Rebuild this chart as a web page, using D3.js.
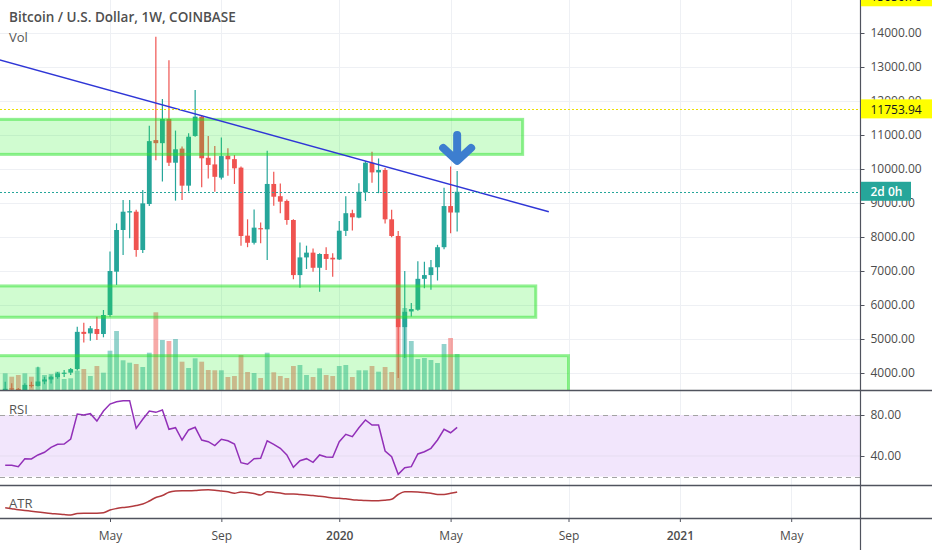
<!DOCTYPE html>
<html>
<head>
<meta charset="utf-8">
<script src="https://cdn.jsdelivr.net/npm/d3@7"></script>
<style>
body{margin:0;background:#fff;}
svg{display:block;font-family:"Open Sans",sans-serif;}
</style>
</head>
<body>
<script>
var firstWeek="2019-01-14"
var weekOpen=[3510,3550,3530,3410,3650,3620,3750,3810,3880,3990,4010,4115,5210,5165,5294,5147,5706,6980,8206,8720,
  8744,7618,8970,10850,10760,11470,10185,10600,9510,10970,11540,10330,10135,9745,10390,10290,10040,8040,7830,8260,
  8225,9560,9200,9060,8500,6880,7400,7540,7095,7500,7390,7340,8180,8700,8570,9315,10185,9900,9970,8520,
  8030,5350,5810,5860,6770,6880,7110,7700,8910,8720]
var weekHigh=[3740,3700,3560,3700,3740,4185,3890,3930,4030,4090,4150,5360,5480,5380,5655,5853,7570,8400,9090,9090,
  8800,9380,11270,13890,12060,13200,11130,10660,11050,12320,11590,10970,10680,10930,10610,10410,10070,8520,8810,8430,
  10540,9920,9575,9100,8520,7840,7745,7665,7520,7700,7520,8470,9200,8800,9580,10235,10510,10310,10030,8800,
  8180,7000,6060,7290,7270,7320,7770,9450,10070,9940]
var weekLow=[3480,3500,3350,3390,3570,3600,3670,3690,3830,3880,3940,4070,4900,4950,4970,5050,5656,6590,7470,7960,
  7420,7530,8910,10260,9630,10090,9070,9090,9340,10950,9460,9720,9330,9690,9800,9560,7745,7700,7780,7815,
  7320,8920,8695,8360,6760,6510,7060,6980,6390,7030,6830,7320,8030,8190,8550,9060,9595,9290,8400,7990,
  3850,4440,5660,5830,6490,6450,6720,7640,8110,8160]
var weekClose=[3535,3530,3410,3650,3620,3750,3810,3890,3990,4010,4115,5210,5150,5315,5147,5706,7000,8206,8744,8760,
  7618,8990,10820,10760,11470,10185,10580,9510,10950,11540,10315,10120,9770,10380,10285,10020,8030,7830,8275,8230,
  9560,9185,9040,8500,6880,7400,7540,7095,7500,7355,7340,8185,8700,8580,9330,10185,9900,9970,8520,8030,
  5350,5800,5880,6770,6880,7110,7700,8910,8720,9330]
var weekVolume=[33400,26600,30000,33400,26600,45400,30000,32000,36600,22000,23400,38600,42000,28000,48000,34600,78600,118000,59400,54600,
  52000,46000,74600,155400,100000,98000,102000,56600,44000,63400,56600,40000,39400,39400,26000,28000,70000,36000,34000,24000,
  74600,35400,28000,24000,48000,50000,30000,26000,43400,30000,28000,48000,50000,26000,39400,39400,48000,36600,46000,36000,
  126000,164000,98000,62000,64000,60000,54000,92000,104000,72000]
var rsiValues=[30.9,30.9,29.6,37.4,37.1,41,43.6,48.5,51.4,51.7,56.6,81,80,81.3,74.1,83.9,90.7,93,94,94,
  67,75.8,83.9,82.6,84.9,66,67.6,55.6,65.4,68,55.6,54,50.1,56.3,54.9,51.7,33.5,31.9,37.4,37.7,
  54.9,51.4,47.5,41,29,35.4,37.4,33.8,41,39,38.7,54,61.2,58.9,67.6,75.1,70.2,70.2,44.9,39.3,
  22.1,28.6,29.6,42,44.2,47.5,55.6,66,62.7,68]
var atrValues=[618,558,498,450,408,360,312,270,240,204,180,270,282,282,288,318,480,570,630,678,
  750,840,1020,1230,1350,1542,1620,1638,1638,1650,1680,1692,1668,1620,1572,1488,1560,1530,1470,1380,
  1578,1542,1500,1440,1440,1410,1380,1350,1302,1260,1200,1182,1158,1092,1068,1044,1038,1038,1068,1122,
  1410,1572,1578,1560,1524,1482,1410,1410,1482,1560]

var priceTicks=[4000,5000,6000,7000,8000,9000,10000,11000,12000,13000,14000]
var rsiTicks=[80,40]
var xTickDates=["2019-05-06","2019-09-02","2020-01-06","2020-05-04","2020-09-07","2021-01-04","2021-05-03"]
var xTickLabels=["May","Sep","2020","May","Sep","2021","May"]

var zones=[{from:"2018-12-01",to:"2020-07-20",low:10430,high:11460},
           {from:"2018-12-01",to:"2020-08-03",low:5640,high:6560},
           {from:"2018-12-01",to:"2020-09-07",low:3000,high:4510}]
var trendLine=[{date:"2019-01-07",price:13217},{date:"2020-08-17",price:8742}]
var hLevel=11753.94
var topLevel=15050.76
var arrowAt={date:"2020-05-11",price:10120}
var countdown="2d 0h"

var parse=d3.utcParse("%Y-%m-%d")
var start=parse(firstWeek)
var weeks=d3.utcMonday.range(start,d3.utcDay.offset(start,7*weekOpen.length))
var bars=weeks.map(function(w,i){
  return {date:w,o:weekOpen[i],h:weekHigh[i],l:weekLow[i],c:weekClose[i],v:weekVolume[i],
          rsi:rsiValues[i],atr:atrValues[i],up:weekClose[i]>=weekOpen[i]}})

var screen={width:932,height:550}
var axisX=860.5
var pricePane={top:0,bottom:390}
var rsiPane={top:390,bottom:485}
var atrPane={top:485,bottom:518}

var xScale=d3.scaleUtc()
  .domain([parse("2019-01-14"),parse("2021-05-03")])
  .range([5.2,791.2])
var yPrice=d3.scaleLinear().domain([4000,14000]).range([373,33])
var yVol=d3.scaleLinear().domain([0,200000]).range([390,290])
var yRsi=d3.scaleLinear().domain([40,80]).range([456,415])
var yAtr=d3.scaleLinear().domain([0,1800]).range([518,488])

var teal="#26a69a", red="#ef5350", gridColor="#eef0f4", lineColor="#50535e", textColor="#4c4c4c"

var svg=d3.select("body").append("svg")
  .attr("width",screen.width)
  .attr("height",screen.height)

var defs=svg.append("defs")
var addClip=function(id,pane){
  defs.append("clipPath").attr("id",id).append("rect")
    .attr("x",0).attr("y",pane.top).attr("width",axisX).attr("height",pane.bottom-pane.top)}
addClip("clipPrice",pricePane)
addClip("clipRsi",rsiPane)
addClip("clipAtr",atrPane)

// grid
var grid=svg.append("g")
grid.selectAll("line.h").data(priceTicks).enter().append("line")
  .attr("x1",0).attr("x2",axisX)
  .attr("y1",function(d){return Math.round(yPrice(d))+0.5})
  .attr("y2",function(d){return Math.round(yPrice(d))+0.5})
  .attr("stroke",gridColor)
grid.selectAll("line.v").data(xTickDates).enter().append("line")
  .attr("x1",function(d){return Math.round(xScale(parse(d)))+0.5})
  .attr("x2",function(d){return Math.round(xScale(parse(d)))+0.5})
  .attr("y1",0).attr("y2",atrPane.bottom)
  .attr("stroke",gridColor)

// price pane
var pricePlot=svg.append("g").attr("clip-path","url(#clipPrice)")
var bw=4.8
pricePlot.selectAll("rect.vol").data(bars).enter().append("rect")
  .attr("x",function(d){return xScale(d.date)-bw/2})
  .attr("y",function(d){return yVol(d.v)})
  .attr("width",bw)
  .attr("height",function(d){return yVol(0)-yVol(d.v)})
  .attr("fill",function(d){return d.up?"rgba(38,166,154,0.5)":"rgba(239,83,80,0.5)"})
pricePlot.selectAll("line.wick").data(bars).enter().append("line")
  .attr("x1",function(d){return xScale(d.date)})
  .attr("x2",function(d){return xScale(d.date)})
  .attr("y1",function(d){return yPrice(d.h)})
  .attr("y2",function(d){return yPrice(d.l)})
  .attr("stroke",function(d){return d.up?teal:red})
  .attr("stroke-width",1.2)
pricePlot.selectAll("rect.body").data(bars).enter().append("rect")
  .attr("x",function(d){return xScale(d.date)-bw/2})
  .attr("y",function(d){return yPrice(Math.max(d.o,d.c))})
  .attr("width",bw)
  .attr("height",function(d){return Math.max(1.2,Math.abs(yPrice(d.o)-yPrice(d.c)))})
  .attr("fill",function(d){return d.up?teal:red})

pricePlot.selectAll("rect.zone").data(zones).enter().append("rect")
  .attr("x",function(d){return xScale(parse(d.from))})
  .attr("y",function(d){return yPrice(d.high)})
  .attr("width",function(d){return xScale(parse(d.to))-xScale(parse(d.from))})
  .attr("height",function(d){return yPrice(d.low)-yPrice(d.high)})
  .attr("fill","rgba(40,240,40,0.22)")
  .attr("stroke","rgba(40,225,40,0.5)")
  .attr("stroke-width",3)

pricePlot.append("line")
  .attr("x1",xScale(parse(trendLine[0].date))).attr("y1",yPrice(trendLine[0].price))
  .attr("x2",xScale(parse(trendLine[1].date))).attr("y2",yPrice(trendLine[1].price))
  .attr("stroke","#2f36d6").attr("stroke-width",1.5)

var lastBar=bars[bars.length-1]
pricePlot.append("line")
  .attr("x1",0).attr("x2",axisX)
  .attr("y1",Math.round(yPrice(hLevel))+0.5).attr("y2",Math.round(yPrice(hLevel))+0.5)
  .attr("stroke","#ece000").attr("stroke-dasharray","2,2")
pricePlot.append("line")
  .attr("x1",0).attr("x2",axisX)
  .attr("y1",Math.round(yPrice(lastBar.c))+0.5).attr("y2",Math.round(yPrice(lastBar.c))+0.5)
  .attr("stroke",teal).attr("stroke-dasharray","2,2")

var ax=xScale(parse(arrowAt.date)), ay=yPrice(arrowAt.price)
pricePlot.append("path")
  .attr("d","M"+ax+","+(ay-30)+"V"+(ay-5)+"M"+(ax-14)+","+(ay-17)+"L"+ax+","+(ay-4)+"L"+(ax+14)+","+(ay-17))
  .attr("fill","none").attr("stroke","#3d7ecf").attr("stroke-width",8)
  .attr("stroke-linecap","round").attr("stroke-linejoin","round")

// rsi pane
var rsiPlot=svg.append("g").attr("clip-path","url(#clipRsi)")
rsiPlot.append("rect")
  .attr("x",0).attr("width",axisX)
  .attr("y",yRsi(80)).attr("height",yRsi(20)-yRsi(80))
  .attr("fill","#f2e6fc")
rsiPlot.append("line").attr("x1",0).attr("x2",axisX)
  .attr("y1",yRsi(40)).attr("y2",yRsi(40)).attr("stroke","#e6ddf0")
rsiPlot.selectAll("line.band").data([80,20]).enter().append("line")
  .attr("x1",0).attr("x2",axisX)
  .attr("y1",function(d){return Math.round(yRsi(d))+0.5})
  .attr("y2",function(d){return Math.round(yRsi(d))+0.5})
  .attr("stroke","#a3a3a3").attr("stroke-dasharray","5,4")
rsiPlot.append("path").datum(bars)
  .attr("d",d3.line().x(function(d){return xScale(d.date)}).y(function(d){return yRsi(d.rsi)}))
  .attr("fill","none").attr("stroke","#9230b8").attr("stroke-width",1.5)

// atr pane
var atrPlot=svg.append("g").attr("clip-path","url(#clipAtr)")
atrPlot.append("path").datum(bars)
  .attr("d",d3.line().curve(d3.curveMonotoneX).x(function(d){return xScale(d.date)}).y(function(d){return yAtr(d.atr)}))
  .attr("fill","none").attr("stroke","#b23a3e").attr("stroke-width",1.5)

// axes
var priceAxis=svg.append("g")
  .attr("transform","translate("+axisX+",0)")
  .call(d3.axisRight(yPrice).tickValues(priceTicks).tickFormat(d3.format(".2f")).tickSize(4).tickPadding(6))
var rsiAxis=svg.append("g")
  .attr("transform","translate("+axisX+",0)")
  .call(d3.axisRight(yRsi).tickValues(rsiTicks).tickFormat(d3.format(".2f")).tickSize(4).tickPadding(6))
var timeAxis=svg.append("g")
  .attr("transform","translate(0,"+atrPane.bottom+")")
  .call(d3.axisBottom(xScale).tickValues(xTickDates.map(parse))
    .tickFormat(function(d,i){return xTickLabels[i]}).tickSize(4).tickPadding(9))
svg.selectAll(".domain").remove()
svg.selectAll(".tick line").attr("stroke",lineColor)
svg.selectAll(".tick text").attr("fill",textColor).style("font-size","12px").style("font-family","Open Sans, sans-serif")
timeAxis.selectAll(".tick text").style("font-weight",function(d,i){return /^\d+$/.test(xTickLabels[i])?"600":"400"})

// separators
svg.selectAll("line.sep").data([pricePane.bottom,rsiPane.bottom,atrPane.bottom]).enter().append("line")
  .attr("x1",0).attr("x2",screen.width)
  .attr("y1",function(d){return d+0.5}).attr("y2",function(d){return d+0.5})
  .attr("stroke",lineColor).attr("stroke-width",1.5)
svg.append("line")
  .attr("x1",axisX).attr("x2",axisX).attr("y1",0).attr("y2",screen.height)
  .attr("stroke",lineColor).attr("stroke-width",1.2)

// axis labels
var axisLabel=function(price,text,fill,color,weight){
  var yy=yPrice(price)
  svg.append("rect").attr("x",axisX+0.5).attr("y",yy-10).attr("width",text===countdown?50:screen.width-axisX)
    .attr("height",19).attr("fill",fill)
  svg.append("text").attr("x",axisX+10).attr("y",yy).attr("dy","0.35em")
    .attr("fill",color).style("font-size","12px").style("font-weight",weight).text(text)}
axisLabel(topLevel,d3.format(".2f")(topLevel),"#ffff00","#131722","400")
axisLabel(hLevel,d3.format(".2f")(hLevel),"#ffff00","#131722","400")
axisLabel(lastBar.c,countdown,teal,"#ffffff","600")

// titles
svg.append("text").attr("x",9).attr("y",22)
  .attr("fill","#4f4f4f").style("font-size","13.5px").style("font-weight","600")
  .text("Bitcoin / U.S. Dollar, 1W, COINBASE")
svg.append("text").attr("x",9).attr("y",42)
  .attr("fill","#555").style("font-size","13px").text("Vol")
svg.append("text").attr("x",9).attr("y",414)
  .attr("fill","#555").style("font-size","13px").text("RSI")
svg.append("text").attr("x",9).attr("y",508)
  .attr("fill","#555").style("font-size","13px").text("ATR")
</script>
</body>
</html>
